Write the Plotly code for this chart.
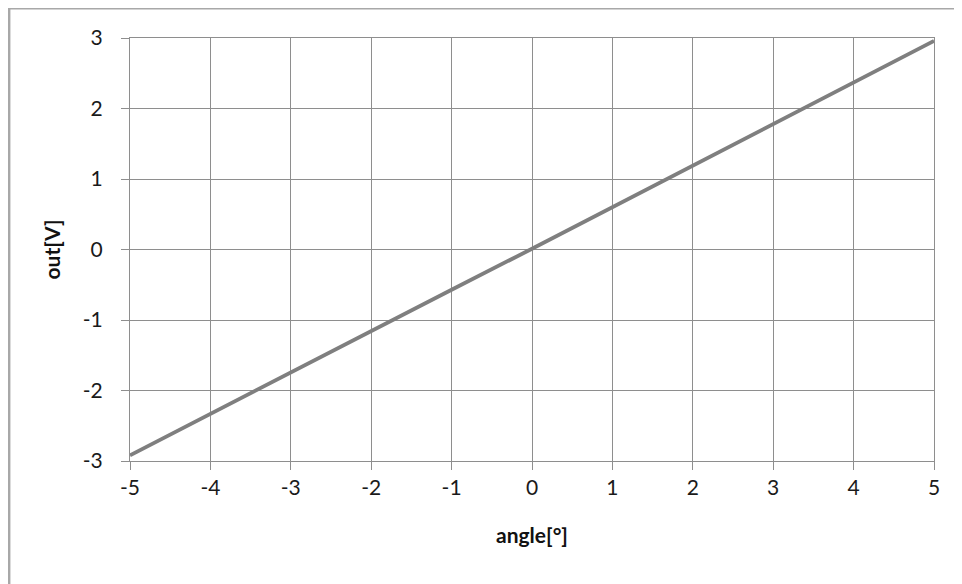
import plotly.graph_objects as go

# angle sweep and measured output voltage
angle = [-5, -4, -3, -2, -1, 0, 1, 2, 3, 4, 5]
out_v = [-2.92, -2.33, -1.74, -1.16, -0.57, 0.01, 0.60, 1.18, 1.77, 2.36, 2.96]

x_ticks = [-5, -4, -3, -2, -1, 0, 1, 2, 3, 4, 5]
x_labels = ['-5', '-4', '-3', '-2', '-1', '0', '1', '2', '3', '4', '5']
y_ticks = [-3, -2, -1, 0, 1, 2, 3]
y_labels = ['-3', '-2', '-1', '0', '1', '2', '3']

grid = '#8e8e8e'
font = 'Lato'

fig = go.Figure()
fig.add_trace(go.Scatter(x=angle, y=out_v, mode='lines',
                         line=dict(color='#7f7f7f', width=3.8),
                         showlegend=False))

fig.update_layout(
    width=962, height=584,
    margin=dict(l=122, r=36, t=30, b=131),
    paper_bgcolor='white', plot_bgcolor='white',
    font=dict(family=font, size=21, color='#1a1a1a'),
    xaxis=dict(range=[-5, 5], tickvals=x_ticks, ticktext=x_labels,
               showgrid=True, gridcolor=grid, gridwidth=1, zeroline=False,
               showline=True, mirror=True, linecolor=grid, linewidth=1,
               ticks='outside', ticklen=8, tickcolor=grid,
               title=dict(text='<b>angle[°]</b>', standoff=30,
                          font=dict(size=21, color='#111111'))),
    yaxis=dict(range=[-3, 3], tickvals=y_ticks, ticktext=y_labels,
               showgrid=True, gridcolor=grid, gridwidth=1, zeroline=False,
               showline=True, mirror=True, linecolor=grid, linewidth=1,
               ticks='outside', ticklen=8, tickcolor=grid, ticklabelstandoff=14,
               title=dict(text='<b>out[V]</b>', standoff=16,
                          font=dict(size=21, color='#111111'))),
)

# outer chart border (only top and left edges visible in the frame)
fig.add_shape(type='rect', xref='paper', yref='paper',
              x0=-0.1506, x1=1.2, y0=-0.5, y1=1.0709,
              line=dict(color='#a8a8a8', width=3), layer='below')

fig.write_html('out.html')
